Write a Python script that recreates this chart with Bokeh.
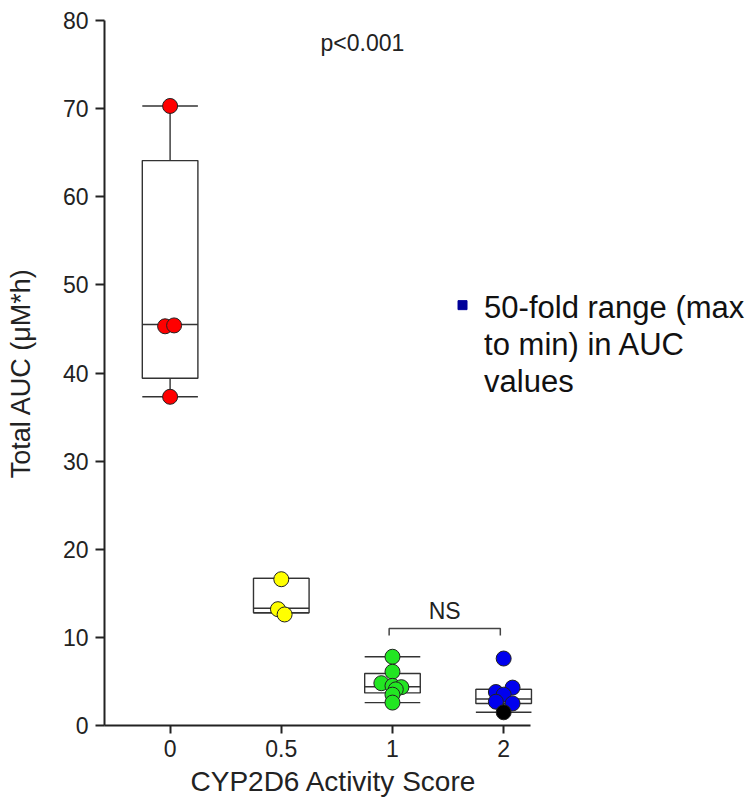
from bokeh.plotting import figure
from bokeh.models import Range1d, FixedTicker, SingleIntervalTicker, Label, Title
from bokeh.embed import file_html
from bokeh.resources import INLINE

# ---- data ----
scores = ["0", "0.5", "1", "2"]

auc_as0 = [70.3, 45.3, 45.4, 37.3]
auc_as05 = [16.6, 13.2, 12.6]
auc_as1 = [7.8, 6.1, 4.8, 4.5, 4.35, 4.1, 3.5, 2.6]
auc_as2 = [7.6, 4.3, 3.8, 3.5, 2.7, 2.5]
auc_as2_black = [1.5]

# box statistics (as drawn)
whisk_lo = [37.3, 12.8, 2.6, 1.5]
q1 = [39.4, 12.8, 3.7, 2.5]
median = [45.5, 13.3, 4.4, 3.0]
q3 = [64.1, 16.7, 5.9, 4.1]
whisk_hi = [70.3, 16.7, 7.8, 4.1]

ns_level = 11.0
p_text = "p<0.001"
note_lines = ["50-fold range (max", "to min) in AUC", "values"]
x_title = "CYP2D6 Activity Score"
y_title = "Total AUC (\u03bcM*h)"

# ---- styling / layout ----
FONT = "Liberation Sans"
TXT = "#222222"
BOXC = "#333333"
BW = 0.5

jit0 = [0.0, -0.045, 0.036, 0.0]
jit05 = [0.0, -0.03, 0.03]
jit1 = [0.0, 0.0, -0.1, 0.0, 0.08, 0.03, 0.0, 0.0]
jit2 = [0.0, 0.08, -0.07, 0.0, -0.07, 0.08]
jit2b = [0.0]

W, H = 754, 801
p = figure(width=W, height=H, output_backend="svg", toolbar_location=None,
           x_range=Range1d(-0.59, 5.256), y_range=Range1d(0, 80),
           min_border_left=104, min_border_right=0, min_border_top=20,
           min_border_bottom=76)
p.xgrid.visible = False
p.ygrid.visible = False
p.outline_line_color = None
p.background_fill_color = "white"

pos = list(range(len(scores)))

# boxes
p.vbar(x=pos, width=BW, bottom=q1, top=q3, fill_color="white",
       line_color=BOXC, line_width=1.4)
p.segment(x0=[x - BW / 2 for x in pos], y0=median, x1=[x + BW / 2 for x in pos],
          y1=median, line_color=BOXC, line_width=1.4)
p.segment(x0=pos, y0=q3, x1=pos, y1=whisk_hi, line_color=BOXC, line_width=1.4)
p.segment(x0=pos, y0=whisk_lo, x1=pos, y1=q1, line_color=BOXC, line_width=1.4)
p.segment(x0=[x - BW / 2 for x in pos], y0=whisk_hi, x1=[x + BW / 2 for x in pos],
          y1=whisk_hi, line_color=BOXC, line_width=1.4)
p.segment(x0=[x - BW / 2 for x in pos], y0=whisk_lo, x1=[x + BW / 2 for x in pos],
          y1=whisk_lo, line_color=BOXC, line_width=1.4)

# points
groups = [
    (0, auc_as0, jit0, "#ff0000"),
    (1, auc_as05, jit05, "#ffff00"),
    (2, auc_as1, jit1, "#22e622"),
    (3, auc_as2, jit2, "#0000ee"),
    (3, auc_as2_black, jit2b, "#000000"),
]
for g, vals, jit, col in groups:
    p.scatter(x=[g + j for j in jit], y=vals, size=15, fill_color=col,
              line_color="#222222", line_width=1)

# NS bracket between AS 1 and AS 2
p.line(x=[2 - 0.03, 2 - 0.03, 3 - 0.03, 3 - 0.03],
       y=[ns_level - 0.8, ns_level, ns_level, ns_level - 0.8],
       line_color="#444444", line_width=1.5)
p.add_layout(Label(x=2.47, y=ns_level + 2.0, text="NS", text_align="center",
                   text_baseline="middle", text_font=FONT, text_font_size="23px",
                   text_color=TXT))

p.add_layout(Label(x=1.73, y=77.4, text=p_text, text_align="center",
                   text_baseline="middle", text_font=FONT, text_font_size="23px",
                   text_color=TXT))

# side note
p.scatter(x=[2.63], y=[47.7], marker="square", size=9, fill_color="#000099",
          line_color="#000099")
for i, ln in enumerate(note_lines):
    p.add_layout(Label(x=2.824, y=47.4 - i * 4.2, text=ln, text_align="left",
                       text_baseline="middle", text_font=FONT,
                       text_font_size="31px", text_color="#111111"))

# axes
p.xaxis.bounds = (-0.59, 3.24)
p.xaxis.ticker = FixedTicker(ticks=pos)
p.xaxis.major_label_overrides = {i: s for i, s in enumerate(scores)}
p.xaxis.minor_tick_line_color = None
p.xaxis.major_tick_out = 8
p.xaxis.major_tick_in = 0
p.xaxis.major_label_standoff = 6

p.yaxis.ticker = SingleIntervalTicker(interval=10, num_minor_ticks=5)
p.yaxis.major_tick_out = 9
p.yaxis.major_tick_in = 0
p.yaxis.minor_tick_out = 5
p.yaxis.minor_tick_in = 0
p.yaxis.axis_label = y_title
p.yaxis.major_label_standoff = 7
p.yaxis.axis_label_standoff = 24

for ax in (p.xaxis, p.yaxis):
    ax.axis_line_width = 2
    ax.axis_line_color = "#222222"
    ax.major_tick_line_color = "#222222"
    ax.major_tick_line_width = 2
    ax.minor_tick_line_color = "#222222" if ax is p.yaxis else None
    ax.minor_tick_line_width = 1.5
    ax.major_label_text_font = FONT
    ax.major_label_text_font_size = "23px"
    ax.major_label_text_color = TXT
    ax.axis_label_text_font = FONT
    ax.axis_label_text_font_size = "27px"
    ax.axis_label_text_font_style = "normal"
    ax.axis_label_text_color = TXT

# x-axis title, placed under the (bounded) axis
p.add_layout(Title(text=x_title, align="left", offset=86, standoff=8,
                   text_font=FONT, text_font_size="28px",
                   text_font_style="normal", text_color=TXT), "below")

open("out.html", "w").write(file_html(p, INLINE))
